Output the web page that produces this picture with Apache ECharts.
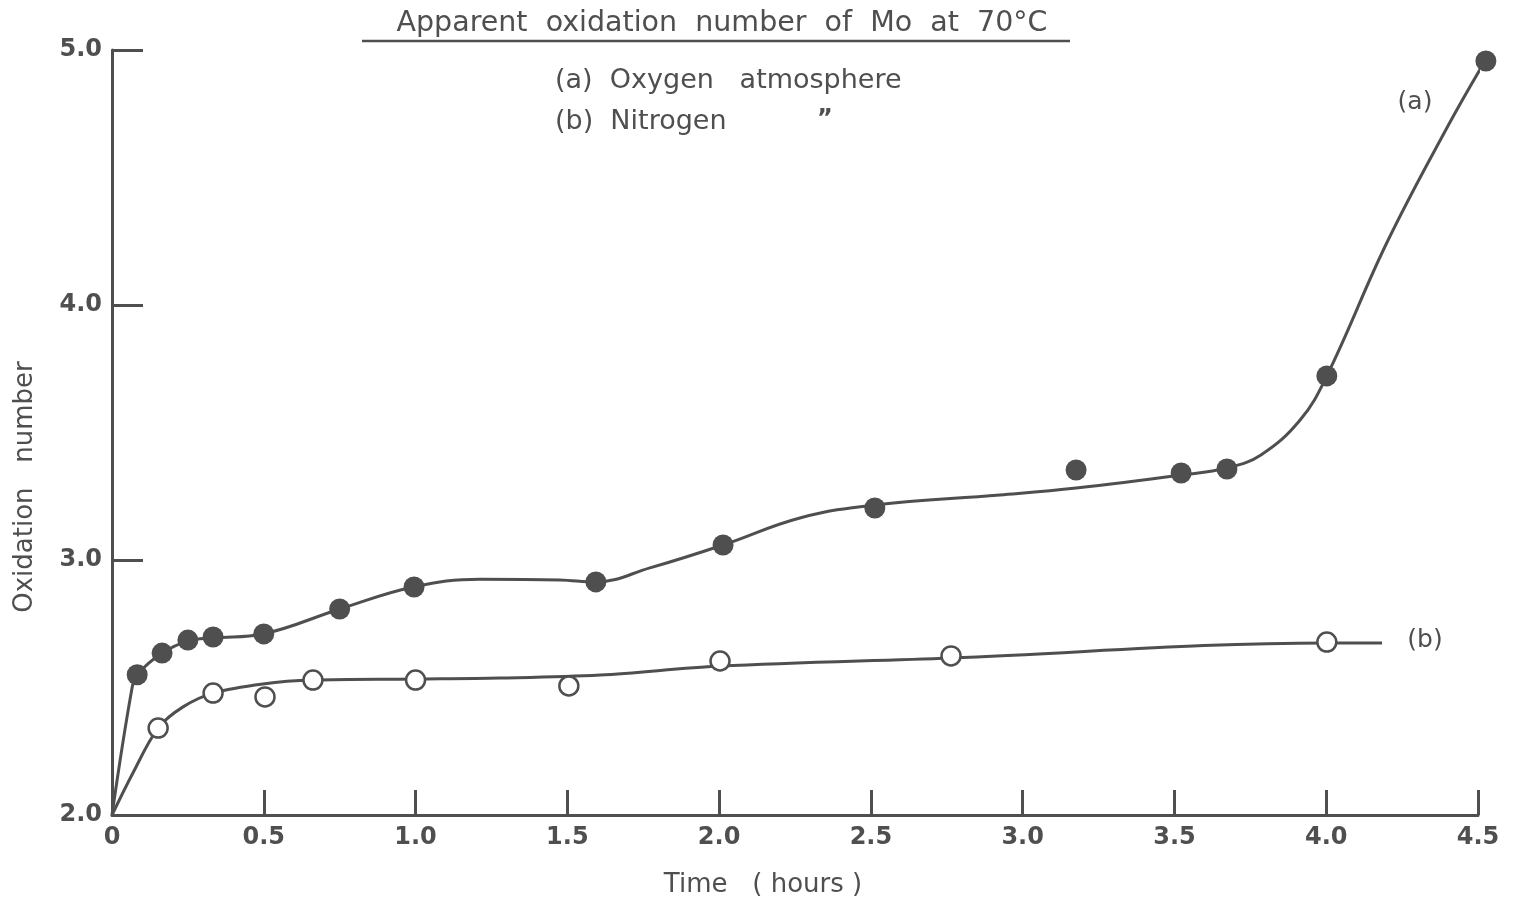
<!DOCTYPE html>
<html>
<head>
<meta charset="utf-8">
<title>Apparent oxidation number of Mo at 70°C</title>
<script src="https://cdn.jsdelivr.net/npm/echarts@6/dist/echarts.min.js"></script>
<style>
  html, body { margin: 0; padding: 0; background: #ffffff; }
  #chart { width: 1522px; height: 905px; }
</style>
</head>
<body>
<div id="chart"></div>
<script>
// Measured points, [time in hours, apparent oxidation number]
const oxygenPoints = [
  [0.083, 2.55], [0.165, 2.635], [0.25, 2.686], [0.333, 2.698], [0.5, 2.71],
  [0.75, 2.808], [0.995, 2.894], [1.594, 2.914], [2.013, 3.059], [2.513, 3.204],
  [3.176, 3.353], [3.522, 3.341], [3.673, 3.357], [4.002, 3.722], [4.526, 4.957]
];
const nitrogenPoints = [
  [0.152, 2.341], [0.333, 2.478], [0.504, 2.463], [0.662, 2.529], [1.0, 2.529],
  [1.505, 2.506], [2.003, 2.604], [2.764, 2.624], [4.002, 2.678]
];

// Hand-drawn trend curves, traced as a sequence of points
const oxygenCurve = [
  [0, 2.0], [0.066, 2.498], [0.083, 2.55], [0.165, 2.635], [0.25, 2.682],
  [0.333, 2.694], [0.497, 2.71], [0.751, 2.808], [0.992, 2.894], [1.212, 2.925],
  [1.476, 2.922], [1.594, 2.914], [1.772, 2.969], [2.013, 3.059], [2.266, 3.165],
  [2.513, 3.216], [2.925, 3.255], [3.176, 3.282], [3.522, 3.333], [3.673, 3.361],
  [3.785, 3.412], [3.914, 3.549], [4.002, 3.722], [4.2, 4.245], [4.4, 4.70],
  [4.523, 4.957]
];
const nitrogenCurve = [
  [0, 2.0], [0.069, 2.165], [0.152, 2.341], [0.234, 2.424], [0.333, 2.478],
  [0.497, 2.514], [0.662, 2.529], [0.998, 2.533], [1.278, 2.537], [1.608, 2.549],
  [2.003, 2.584], [2.764, 2.616], [4.002, 2.675], [4.184, 2.675]
];

const xTicks = [0, 0.5, 1.0, 1.5, 2.0, 2.5, 3.0, 3.5, 4.0, 4.5];
const yTicks = [2.0, 3.0, 4.0, 5.0];

const INK = '#4f4f4f';
const FONT = "'DejaVu Sans', sans-serif";

const chart = echarts.init(document.getElementById('chart'), null, { renderer: 'canvas' });

function tickLabel(v, ticks) {
  if (v === 0) return '0';
  return ticks.indexOf(v) >= 0 ? v.toFixed(1) : '';
}

const option = {
  backgroundColor: '#ffffff',
  animation: false,
  grid: { left: 112, right: 44, top: 50, bottom: 90 },
  xAxis: {
    type: 'value',
    min: 0, max: 4.5, interval: 0.5,
    axisLine: { lineStyle: { color: INK, width: 3 } },
    axisTick: { inside: true, length: 25, lineStyle: { color: INK, width: 3 } },
    axisLabel: {
      color: INK, fontFamily: FONT, fontSize: 24, fontWeight: 'bold', margin: 11,
      formatter: v => tickLabel(v, xTicks)
    },
    splitLine: { show: false }
  },
  yAxis: {
    type: 'value',
    min: 2, max: 5, interval: 1,
    axisLine: { lineStyle: { color: INK, width: 3 } },
    axisTick: { inside: true, length: 31, lineStyle: { color: INK, width: 3 } },
    axisLabel: {
      color: INK, fontFamily: FONT, fontSize: 24, fontWeight: 'bold', margin: 10,
      formatter: v => tickLabel(v, yTicks)
    },
    splitLine: { show: false }
  },
  series: [
    {
      name: 'Oxygen curve', type: 'line', data: oxygenCurve,
      smooth: 0.4, showSymbol: false, silent: true, clip: false, z: 2,
      lineStyle: { color: INK, width: 3 }
    },
    {
      name: 'Nitrogen curve', type: 'line', data: nitrogenCurve,
      smooth: 0.35, showSymbol: false, silent: true, clip: false, z: 2,
      lineStyle: { color: INK, width: 3 }
    },
    {
      name: '(a) Oxygen atmosphere', type: 'scatter', data: oxygenPoints,
      symbol: 'circle', symbolSize: 21, clip: false, z: 3,
      itemStyle: { color: INK, opacity: 1 }
    },
    {
      name: '(b) Nitrogen', type: 'scatter', data: nitrogenPoints,
      symbol: 'circle', symbolSize: 19, clip: false, z: 3,
      itemStyle: { color: '#ffffff', borderColor: INK, borderWidth: 2.5, opacity: 1 }
    }
  ],
  graphic: [
    {
      type: 'text', x: 722, y: 24,
      style: {
        text: 'Apparent  oxidation  number  of  Mo  at  70°C',
        fill: INK, fontFamily: FONT, fontSize: 28.5, align: 'center', verticalAlign: 'middle'
      }
    },
    {
      type: 'line', shape: { x1: 362, y1: 41, x2: 1070, y2: 41 },
      style: { stroke: INK, lineWidth: 2.5 }
    },
    {
      type: 'text', x: 555, y: 81,
      style: {
        text: '(a)  Oxygen   atmosphere',
        fill: INK, fontFamily: FONT, fontSize: 27, align: 'left', verticalAlign: 'middle'
      }
    },
    {
      type: 'text', x: 555, y: 122,
      style: {
        text: '(b)  Nitrogen',
        fill: INK, fontFamily: FONT, fontSize: 27, align: 'left', verticalAlign: 'middle'
      }
    },
    {
      type: 'text', x: 825, y: 120,
      style: {
        text: '\u201D',
        fill: INK, fontFamily: FONT, fontSize: 24, fontWeight: 'bold', align: 'center', verticalAlign: 'middle'
      }
    },
    {
      type: 'text', x: 1415, y: 102,
      style: {
        text: '(a)', fill: INK, fontFamily: FONT, fontSize: 25,
        align: 'center', verticalAlign: 'middle'
      }
    },
    {
      type: 'text', x: 1425, y: 640,
      style: {
        text: '(b)', fill: INK, fontFamily: FONT, fontSize: 25,
        align: 'center', verticalAlign: 'middle'
      }
    },
    {
      type: 'text', x: 763, y: 885,
      style: {
        text: 'Time   ( hours )', fill: INK, fontFamily: FONT, fontSize: 26,
        align: 'center', verticalAlign: 'middle'
      }
    },
    {
      type: 'text', x: 25, y: 487, rotation: Math.PI / 2,
      style: {
        text: 'Oxidation   number', fill: INK, fontFamily: FONT, fontSize: 26,
        align: 'center', verticalAlign: 'middle'
      }
    }
  ]
};

chart.setOption(option);
</script>
</body>
</html>
